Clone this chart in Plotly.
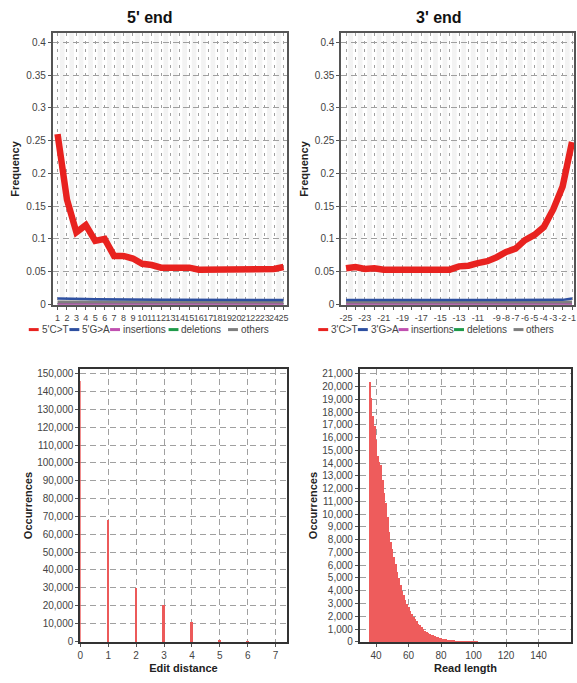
import plotly.graph_objects as go

W, H = 577, 683

# ---------------- data ----------------
pos5 = list(range(1, 26))
ct5 = [0.260, 0.160, 0.110, 0.121, 0.097, 0.100, 0.074, 0.074, 0.070, 0.062,
       0.060, 0.056, 0.056, 0.056, 0.056, 0.053, 0.053, 0.054, 0.053, 0.053,
       0.053, 0.055, 0.055, 0.054, 0.057]
ga5 = [0.0090, 0.0090, 0.0088, 0.0080, 0.0078, 0.0075, 0.0072, 0.0070, 0.0070, 0.0070,
       0.0070, 0.0068, 0.0068, 0.0068, 0.0068, 0.0067, 0.0067, 0.0067, 0.0066, 0.0066,
       0.0066, 0.0066, 0.0065, 0.0065, 0.0065]
ins5 = [0.0006, 0.0006, 0.0006, 0.0006, 0.0006, 0.0006, 0.0006, 0.0006, 0.0006, 0.0006,
        0.0006, 0.0006, 0.0006, 0.0006, 0.0006, 0.0006, 0.0006, 0.0006, 0.0006, 0.0006,
        0.0006, 0.0006, 0.0006, 0.0006, 0.0006]
del5 = [0.0010, 0.0010, 0.0010, 0.0010, 0.0010, 0.0010, 0.0010, 0.0010, 0.0010, 0.0010,
        0.0010, 0.0010, 0.0010, 0.0010, 0.0010, 0.0010, 0.0010, 0.0010, 0.0010, 0.0010,
        0.0010, 0.0010, 0.0010, 0.0010, 0.0010]
oth5 = [0.0030, 0.0030, 0.0030, 0.0030, 0.0030, 0.0030, 0.0030, 0.0030, 0.0030, 0.0030,
        0.0030, 0.0030, 0.0030, 0.0030, 0.0030, 0.0030, 0.0030, 0.0030, 0.0030, 0.0030,
        0.0030, 0.0030, 0.0030, 0.0030, 0.0030]

pos3 = list(range(-25, 0))
ct3 = [0.055, 0.057, 0.054, 0.055, 0.053, 0.053, 0.054, 0.055, 0.053, 0.054,
       0.055, 0.053, 0.058, 0.059, 0.063, 0.066, 0.072, 0.080, 0.085, 0.098,
       0.106, 0.118, 0.145, 0.180, 0.248]
ga3 = [0.0066, 0.0066, 0.0066, 0.0066, 0.0065, 0.0065, 0.0065, 0.0065, 0.0065, 0.0065,
       0.0065, 0.0065, 0.0066, 0.0066, 0.0066, 0.0066, 0.0065, 0.0065, 0.0065, 0.0065,
       0.0065, 0.0065, 0.0065, 0.0068, 0.0090]
ins3 = [0.0006, 0.0006, 0.0006, 0.0006, 0.0006, 0.0006, 0.0006, 0.0006, 0.0006, 0.0006,
        0.0006, 0.0006, 0.0006, 0.0006, 0.0006, 0.0006, 0.0006, 0.0006, 0.0006, 0.0006,
        0.0006, 0.0006, 0.0006, 0.0006, 0.0006]
del3 = [0.0010, 0.0010, 0.0010, 0.0010, 0.0010, 0.0010, 0.0010, 0.0010, 0.0010, 0.0010,
        0.0010, 0.0010, 0.0010, 0.0010, 0.0010, 0.0010, 0.0010, 0.0010, 0.0010, 0.0010,
        0.0010, 0.0010, 0.0010, 0.0010, 0.0010]
oth3 = [0.0030, 0.0030, 0.0030, 0.0030, 0.0030, 0.0030, 0.0030, 0.0030, 0.0030, 0.0030,
        0.0030, 0.0030, 0.0030, 0.0030, 0.0030, 0.0030, 0.0030, 0.0030, 0.0030, 0.0030,
        0.0030, 0.0030, 0.0030, 0.0030, 0.0030]
tick3_text = ["-25", "", "-23", "", "-21", "", "-19", "", "-17", "", "-15", "", "-13",
              "", "-11", "", "-9", "-8", "-7", "-6", "-5", "-4", "-3", "-2", "-1"]

legend5 = ["5'C>T", "5'G>A", "insertions", "deletions", "others"]
legend3 = ["3'C>T", "3'G>A", "insertions", "deletions", "others"]
series_colors = ["#e8221f", "#2d4fa0", "#c050b0", "#1f9a4a", "#7f7f7f"]

edit_dist = [0, 1, 2, 3, 4, 5, 6, 7]
edit_occ = [146000, 68000, 30000, 20300, 10800, 1100, 100, 0]

read_len = list(range(36, 103))
read_occ = [20400, 19100, 17700, 16900, 15800, 14600, 14100, 13900, 12700, 11700,
            10900, 9800, 8600, 7800, 7300, 6700, 6100, 5500, 5000, 4500,
            4000, 3700, 3300, 3000, 2750, 2450, 2200, 2000, 1820, 1620,
            1450, 1300, 1180, 1030, 900, 800, 720, 650, 580, 520,
            460, 410, 370, 330, 300, 270, 240, 215, 195, 175,
            160, 145, 130, 115, 100, 90, 80, 70, 60, 50,
            42, 35, 28, 22, 16, 12, 8]

# ---------------- layout helpers ----------------
def dx(p):
    return p / W

def dy(p):
    return 1 - p / H

FONT = "Liberation Sans, Arial, sans-serif"
tickfont = dict(family=FONT, size=10, color="#444")
tickfont_small = dict(family=FONT, size=9, color="#444")

fig = go.Figure()

widths = [6.5, 2.5, 1.5, 1.5, 3.5]
order = [4, 3, 2, 1, 0]
data5 = [ct5, ga5, ins5, del5, oth5]
data3 = [ct3, ga3, ins3, del3, oth3]
for k in order:
    fig.add_trace(go.Scatter(x=pos5, y=data5[k], mode="lines", name=legend5[k],
                             line=dict(color=series_colors[k], width=widths[k]),
                             xaxis="x", yaxis="y", showlegend=False))
for k in order:
    fig.add_trace(go.Scatter(x=pos3, y=data3[k], mode="lines", name=legend3[k],
                             line=dict(color=series_colors[k], width=widths[k]),
                             xaxis="x2", yaxis="y2", showlegend=False))

fig.add_trace(go.Bar(x=edit_dist, y=edit_occ, width=0.09,
                     marker=dict(color="#ec5a5a", line=dict(width=0)),
                     xaxis="x3", yaxis="y3", showlegend=False))
fig.add_trace(go.Bar(x=read_len, y=read_occ, width=0.62,
                     marker=dict(color="#ee5c5c", line=dict(width=0)),
                     xaxis="x4", yaxis="y4", showlegend=False))


def axis(tickfont_=tickfont, dash="6px,4px", linecolor="#555", linewidth=1.5, **kw):
    d = dict(showgrid=True, gridcolor="#a0a0a0", gridwidth=1, griddash=dash,
             showline=True, mirror=True, zeroline=False,
             ticks="outside", ticklen=3, tickcolor="#555", tickfont=tickfont_,
             linecolor=linecolor, linewidth=linewidth)
    d.update(kw)
    return d


title_font = dict(family=FONT, size=11, color="#222")

layout = dict(
    width=W, height=H, margin=dict(l=0, r=0, t=0, b=0),
    paper_bgcolor="white", plot_bgcolor="white", bargap=0,
    xaxis=axis(tickfont_small, dash="3px,5px", domain=[dx(50), dx(286)], range=[0.47, 25.32],
               anchor="y", tickmode="array", tickvals=pos5, ticktext=[str(p) for p in pos5],
               tickangle=0),
    yaxis=axis(domain=[dy(307), dy(32)], range=[-0.0015, 0.415], anchor="x", dtick=0.05,
               title=dict(text="<b>Frequency</b>", font=title_font, standoff=4)),
    xaxis2=axis(tickfont_small, dash="3px,5px", domain=[dx(341), dx(576)], range=[-25.53, -0.79],
                anchor="y2", tickmode="array", tickvals=pos3, ticktext=tick3_text, tickangle=0),
    yaxis2=axis(domain=[dy(307), dy(32)], range=[-0.0015, 0.415], anchor="x2", dtick=0.05,
                title=dict(text="<b>Frequency</b>", font=title_font, standoff=4)),
    xaxis3=axis(domain=[dx(78), dx(286)], range=[0, 7.39], anchor="y3", dtick=1,
                linecolor="#333", linewidth=2,
                title=dict(text="<b>Edit distance</b>", font=title_font, standoff=4)),
    yaxis3=axis(domain=[dy(647), dy(371)], range=[-556, 152778], anchor="x3",
                dtick=10000, tickformat=",d", linecolor="#333", linewidth=2,
                title=dict(text="<b>Occurrences</b>", font=title_font, standoff=2)),
    xaxis4=axis(domain=[dx(360), dx(573)], range=[30, 160], anchor="y4",
                tickmode="array", tickvals=[40, 60, 80, 100, 120, 140],
                linecolor="#333", linewidth=2,
                title=dict(text="<b>Read length</b>", font=title_font, standoff=4)),
    yaxis4=axis(domain=[dy(647), dy(371)], range=[-40, 21390], anchor="x4",
                dtick=1000, tickformat=",d", linecolor="#333", linewidth=2,
                title=dict(text="<b>Occurrences</b>", font=title_font, standoff=2)),
)

shapes = []
# light vertical stripes in the damage plots
for p in pos5[:-1]:
    shapes.append(dict(type="rect", xref="x", yref="y domain", x0=p + 0.25, x1=p + 0.75,
                       y0=0, y1=1, fillcolor="#f3f3f3", line=dict(width=0), layer="below"))
for p in pos3[:-1]:
    shapes.append(dict(type="rect", xref="x2", yref="y2 domain", x0=p + 0.25, x1=p + 0.75,
                       y0=0, y1=1, fillcolor="#f3f3f3", line=dict(width=0), layer="below"))

annotations = [
    dict(text="<b>5' end</b>", x=dx(148), y=dy(17), xref="paper", yref="paper",
         showarrow=False, font=dict(family=FONT, size=16, color="#111"),
         xanchor="center", yanchor="middle"),
    dict(text="<b>3' end</b>", x=dx(440), y=dy(17), xref="paper", yref="paper",
         showarrow=False, font=dict(family=FONT, size=16, color="#111"),
         xanchor="center", yanchor="middle"),
]

# manual legends
sym5 = [26, 67, 108, 167, 227]
sym3 = [318, 358, 399, 455, 515]
for starts, labels in ((sym5, legend5), (sym3, legend3)):
    for s, lab, col in zip(starts, labels, series_colors):
        shapes.append(dict(type="line", xref="paper", yref="paper",
                           x0=dx(s), x1=dx(s + 10), y0=dy(331.5), y1=dy(331.5),
                           line=dict(color=col, width=3)))
        annotations.append(dict(text=lab, x=dx(s + 11), y=dy(331.5), xref="paper", yref="paper",
                                showarrow=False, xanchor="left", yanchor="middle",
                                font=dict(family=FONT, size=10, color="#444")))

layout["shapes"] = shapes
layout["annotations"] = annotations
fig.update_layout(**layout)

fig.write_html("out.html")
